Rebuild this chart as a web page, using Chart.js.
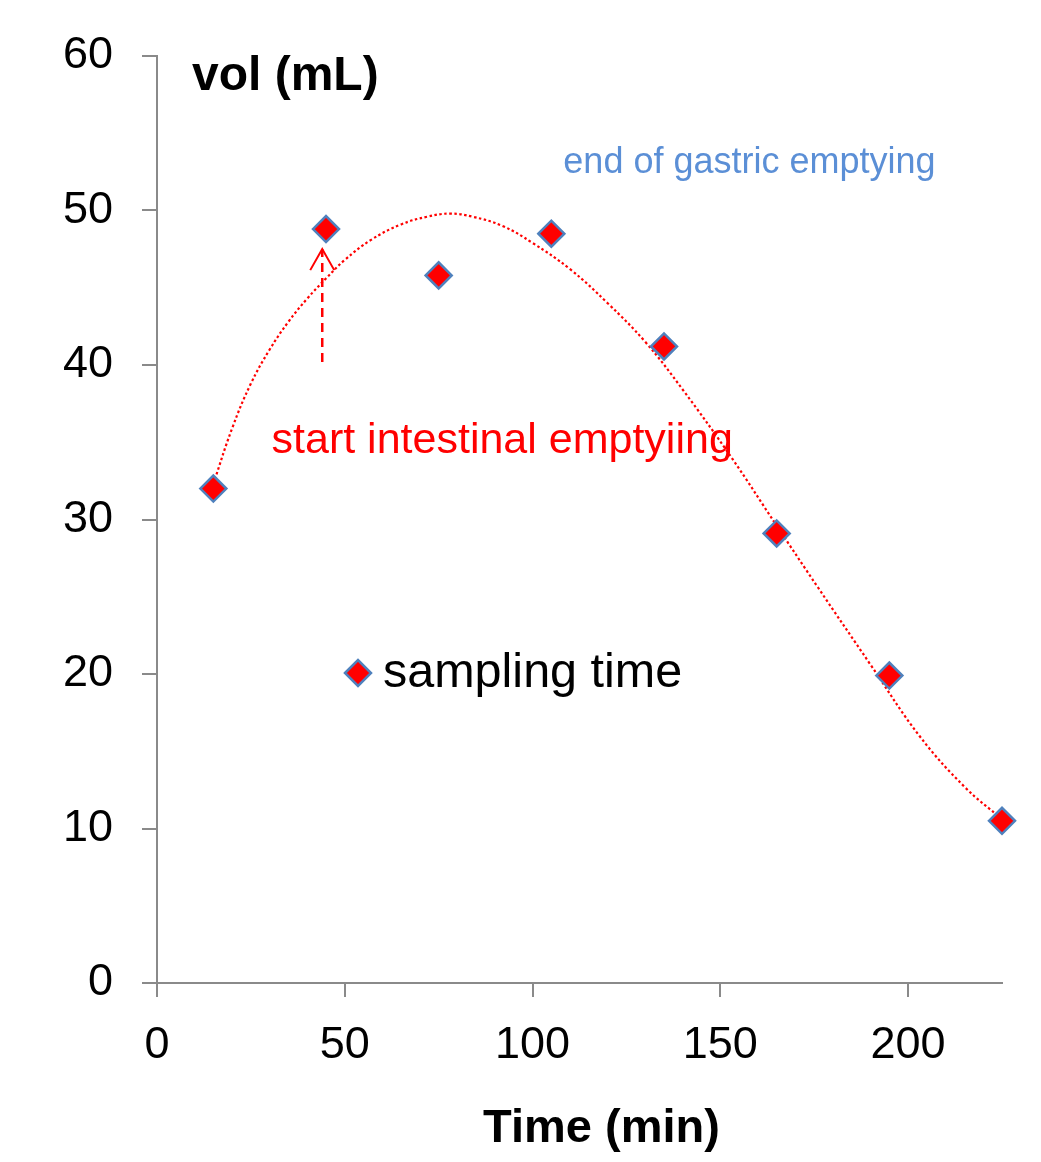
<!DOCTYPE html>
<html>
<head>
<meta charset="utf-8">
<script src="https://cdn.jsdelivr.net/npm/chart.js@4.4.1/dist/chart.umd.min.js"></script>
<style>
    html, body { margin: 0; padding: 0; background: #fff; }
    #wrap { position: relative; width: 1041px; height: 1162px; }
</style>
</head>
<body>
<div id="wrap"><canvas id="volChart"></canvas></div>
<script>
// Объём по времени отбора проб
const sampleTimes = [15, 45, 75, 105, 135, 165, 195, 225];
const volumes = [32.0, 48.8, 45.8, 48.5, 41.2, 29.1, 19.9, 10.5];

const trendTimes = [15, 20, 25, 30, 35, 40, 45, 50, 57, 65, 72, 78, 84, 92, 100, 110, 120, 130, 140, 153, 165, 176, 190, 203, 215, 225];
const trendVolumes = [32.3, 35.9, 38.8, 41.0, 42.8, 44.3, 45.6, 46.8, 48.1, 49.1, 49.6, 49.8, 49.6, 49.0, 47.9, 46.2, 44.0, 41.5, 38.4, 34.0, 29.6, 25.6, 20.6, 16.0, 12.7, 10.6];

// Деления осей
const xTicks = [0, 50, 100, 150, 200];
const yTicks = [0, 10, 20, 30, 40, 50, 60];

// Стрелка "start intestinal emptyiing"
const arrowTime = 44;
const arrowFrom = 40.2;
const arrowTo = 47.5;

const FONT = '"Liberation Sans", Arial, sans-serif';
const AXIS_GRAY = '#8a8a8a';
const MARK_RED = '#ff0000';
const MARK_BLUE = '#4f81bd';

// Подписи, стрелка и легенда поверх графика
const annotations = {
    id: 'annotations',
    afterDatasetsDraw(chart) {
        const ctx = chart.ctx;
        const xs = chart.scales.x;
        const ys = chart.scales.y;
        const area = chart.chartArea;

        ctx.save();

        // пунктирная стрелка
        const ax = xs.getPixelForValue(arrowTime);
        const y0 = ys.getPixelForValue(arrowFrom);
        const y1 = ys.getPixelForValue(arrowTo);
        ctx.strokeStyle = MARK_RED;
        ctx.lineWidth = 2.5;
        ctx.setLineDash([9, 6]);
        ctx.beginPath();
        ctx.moveTo(ax, y0);
        ctx.lineTo(ax, y1);
        ctx.stroke();
        ctx.setLineDash([]);
        ctx.lineWidth = 2;
        ctx.beginPath();
        ctx.moveTo(ax - 12, y1 + 21);
        ctx.lineTo(ax, y1);
        ctx.lineTo(ax + 12, y1 + 21);
        ctx.stroke();

        ctx.textAlign = 'left';
        ctx.textBaseline = 'alphabetic';

        ctx.fillStyle = MARK_RED;
        ctx.font = '43px ' + FONT;
        ctx.fillText('start intestinal emptyiing', xs.getPixelForValue(30.5), ys.getPixelForValue(34.3));

        ctx.fillStyle = '#5b8fd6';
        ctx.font = '36px ' + FONT;
        ctx.fillText('end of gastric emptying', xs.getPixelForValue(108.2), ys.getPixelForValue(52.45));

        // заголовки осей
        ctx.fillStyle = '#000';
        ctx.font = 'bold 48px ' + FONT;
        ctx.fillText('vol (mL)', area.left + 35, area.top + 34);
        ctx.textAlign = 'center';
        ctx.font = 'bold 47px ' + FONT;
        ctx.fillText('Time (min)', (area.left + area.right) / 2 + 22, area.bottom + 159);

        // легенда
        const lx = area.left + 201;
        const ly = area.top + 617;
        const ds = chart.data.datasets[0];
        ctx.fillStyle = ds.pointBackgroundColor;
        ctx.strokeStyle = ds.pointBorderColor;
        ctx.lineWidth = ds.pointBorderWidth;
        Chart.helpers.drawPoint(ctx, { pointStyle: 'rectRot', radius: ds.pointRadius, rotation: 0, borderWidth: ds.pointBorderWidth }, lx, ly);
        ctx.fillStyle = '#000';
        ctx.textAlign = 'left';
        ctx.font = '48.5px ' + FONT;
        ctx.fillText(ds.label, lx + 25, ly + 14);

        ctx.restore();
    }
};

const ctx = document.getElementById('volChart').getContext('2d');

const volChart = new Chart(ctx, {
    type: 'scatter',
    data: {
        datasets: [{
            label: 'sampling time',
            data: sampleTimes.map((t, i) => ({ x: t, y: volumes[i] })),
            pointStyle: 'rectRot',
            pointRadius: 13,
            pointBackgroundColor: MARK_RED,
            pointBorderColor: MARK_BLUE,
            pointBorderWidth: 2.5,
            showLine: false,
            clip: false,
            order: 0
        }, {
            label: 'trend',
            data: trendTimes.map((t, i) => ({ x: t, y: trendVolumes[i] })),
            showLine: true,
            borderColor: MARK_RED,
            borderWidth: 2.2,
            borderDash: [2.5, 2.5],
            tension: 0.4,
            pointRadius: 0,
            clip: false,
            order: 1
        }]
    },
    options: {
        responsive: true,
        maintainAspectRatio: false,
        animation: false,
        layout: {
            padding: { top: 55, right: 39, left: 63, bottom: 0 }
        },
        scales: {
            x: {
                type: 'linear',
                min: 0,
                max: 225,
                afterBuildTicks: (scale) => {
                    scale.ticks = xTicks.map(v => ({ value: v }));
                },
                afterFit: (scale) => { scale.height = 179; },
                grid: {
                    drawOnChartArea: false,
                    drawTicks: true,
                    tickLength: 14,
                    color: AXIS_GRAY,
                    lineWidth: 2
                },
                border: { color: AXIS_GRAY, width: 2 },
                ticks: {
                    padding: 22,
                    color: '#000',
                    font: { family: FONT, size: 45 }
                }
            },
            y: {
                type: 'linear',
                min: 0,
                max: 60,
                afterBuildTicks: (scale) => {
                    scale.ticks = yTicks.map(v => ({ value: v }));
                },
                afterFit: (scale) => { scale.width = 94; },
                grid: {
                    drawOnChartArea: false,
                    drawTicks: true,
                    tickLength: 15,
                    color: AXIS_GRAY,
                    lineWidth: 2
                },
                border: { color: AXIS_GRAY, width: 2 },
                ticks: {
                    padding: 29,
                    color: '#000',
                    font: { family: FONT, size: 45 }
                }
            }
        },
        plugins: {
            legend: { display: false },
            tooltip: { enabled: false }
        }
    },
    plugins: [annotations]
});
</script>
</body>
</html>
